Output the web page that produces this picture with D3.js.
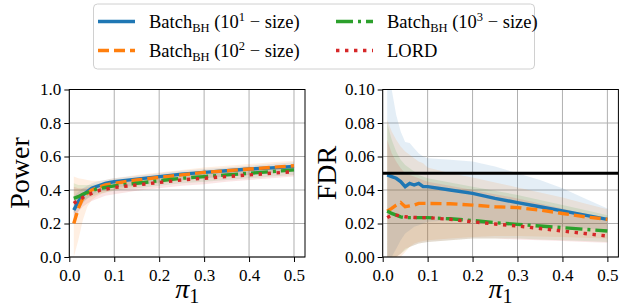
<!DOCTYPE html>
<html>
<head>
<meta charset="utf-8">
<script src="https://cdn.jsdelivr.net/npm/d3@7"></script>
<style>
body { margin: 0; background: #fff; }
svg text { font-family: "Liberation Serif", "DejaVu Serif", serif; fill: #000; }
</style>
</head>
<body>
<svg></svg>
<script>
var screen = {width: 623, height: 306};

// x positions (pi_1)
var pis = [0.01,0.02,0.03,0.04,0.05,0.06,0.07,0.08,0.09,0.1,0.15,0.2,0.25,0.3,0.35,0.4,0.45,0.5];

var seriesNames = ["b1", "b2", "b3", "lord"];
var colors = {b1: "#1f77b4", b2: "#ff7f0e", b3: "#2ca02c", lord: "#d62728"};

// power, mean
var powerB1   = [0.28,0.33,0.37,0.39,0.41,0.42,0.43,0.44,0.445,0.45,0.465,0.48,0.495,0.505,0.515,0.525,0.532,0.54];
var powerB2   = [0.20,0.29,0.35,0.38,0.40,0.41,0.42,0.43,0.435,0.44,0.46,0.475,0.49,0.505,0.515,0.525,0.535,0.545];
var powerB3   = [0.35,0.36,0.375,0.385,0.395,0.405,0.41,0.415,0.42,0.425,0.44,0.455,0.47,0.48,0.49,0.50,0.51,0.52];
var powerLord = [0.32,0.34,0.355,0.37,0.38,0.39,0.40,0.405,0.41,0.415,0.43,0.445,0.46,0.47,0.48,0.49,0.50,0.51];
// power, band low / high
var powerB1Lo   = [0.20,0.27,0.32,0.35,0.37,0.385,0.395,0.40,0.41,0.415,0.43,0.445,0.46,0.47,0.48,0.49,0.50,0.51];
var powerB1Hi   = [0.36,0.39,0.41,0.425,0.44,0.45,0.455,0.46,0.465,0.47,0.485,0.50,0.515,0.525,0.535,0.545,0.555,0.565];
var powerB2Lo   = [0.0,0.10,0.22,0.30,0.34,0.36,0.375,0.385,0.395,0.40,0.425,0.44,0.455,0.47,0.48,0.49,0.50,0.51];
var powerB2Hi   = [0.48,0.47,0.465,0.46,0.455,0.455,0.455,0.46,0.465,0.47,0.49,0.505,0.52,0.535,0.545,0.555,0.565,0.575];
var powerB3Lo   = [0.26,0.30,0.33,0.35,0.36,0.37,0.38,0.385,0.39,0.395,0.41,0.425,0.44,0.45,0.46,0.47,0.48,0.49];
var powerB3Hi   = [0.44,0.43,0.43,0.43,0.43,0.435,0.44,0.445,0.45,0.455,0.47,0.485,0.50,0.51,0.52,0.53,0.54,0.55];
var powerLordLo = [0.22,0.27,0.30,0.32,0.335,0.345,0.355,0.365,0.37,0.375,0.395,0.41,0.425,0.435,0.45,0.46,0.47,0.48];
var powerLordHi = [0.42,0.41,0.41,0.415,0.42,0.425,0.43,0.435,0.44,0.445,0.465,0.48,0.49,0.50,0.51,0.52,0.53,0.54];

// FDR, mean
var fdrB1   = [0.049,0.048,0.047,0.045,0.042,0.044,0.043,0.044,0.042,0.042,0.040,0.038,0.035,0.0325,0.030,0.0275,0.025,0.0225];
var fdrB2   = [0.0273,0.029,0.031,0.0325,0.030,0.0305,0.031,0.032,0.032,0.032,0.0318,0.031,0.030,0.0295,0.028,0.026,0.024,0.0225];
var fdrB3   = [0.0275,0.026,0.025,0.024,0.0235,0.0235,0.0235,0.0235,0.0235,0.0235,0.0228,0.0218,0.0205,0.0195,0.0185,0.0175,0.0165,0.0155];
var fdrLord = [0.0235,0.025,0.025,0.0245,0.024,0.0238,0.0236,0.0235,0.0235,0.0235,0.0225,0.021,0.0197,0.0185,0.017,0.0155,0.014,0.0125];
// FDR, band low / high
var fdrB1Lo   = [0,0,0.005,0.01,0.014,0.016,0.018,0.019,0.02,0.021,0.022,0.022,0.021,0.020,0.019,0.018,0.017,0.016];
var fdrB1Hi   = [0.12,0.10,0.085,0.075,0.0686,0.068,0.065,0.062,0.060,0.059,0.058,0.057,0.054,0.050,0.046,0.041,0.035,0.029];
var fdrB2Lo   = [0,0,0,0,0.003,0.006,0.008,0.009,0.0095,0.010,0.011,0.012,0.0125,0.0125,0.0123,0.012,0.0115,0.011];
var fdrB2Hi   = [0.082,0.075,0.07,0.066,0.063,0.061,0.059,0.057,0.056,0.0535,0.050,0.0475,0.0445,0.0415,0.0385,0.0355,0.032,0.0285];
var fdrB3Lo   = [0,0,0,0.002,0.004,0.006,0.007,0.008,0.0085,0.009,0.010,0.011,0.011,0.011,0.0105,0.010,0.0095,0.009];
var fdrB3Hi   = [0.08,0.07,0.063,0.058,0.055,0.053,0.051,0.049,0.048,0.047,0.0445,0.042,0.0395,0.037,0.034,0.031,0.028,0.025];
var fdrLordLo = [0,0,0,0.002,0.005,0.006,0.007,0.008,0.0085,0.009,0.010,0.011,0.011,0.0105,0.010,0.0095,0.009,0.0085];
var fdrLordHi = [0.07,0.062,0.057,0.053,0.05,0.049,0.048,0.047,0.046,0.045,0.0425,0.040,0.0375,0.035,0.032,0.029,0.0255,0.022];

var xTicks = [0, 0.1, 0.2, 0.3, 0.4, 0.5];
var powerTicks = [0, 0.2, 0.4, 0.6, 0.8, 1.0];
var fdrTicks = [0, 0.02, 0.04, 0.06, 0.08, 0.10];
var fdrTarget = 0.05;

var styles = {
    b1:   {width: 3.4, dash: null},
    b2:   {width: 3.4, dash: "11,5"},
    b3:   {width: 3.4, dash: "17,5,3,5"},
    lord: {width: 3.4, dash: "3.4,5.6"}
};

var svg = d3.select("svg").attr("width", screen.width).attr("height", screen.height);

var drawPanel = function(opts)
{
    var xScale = d3.scaleLinear().domain([0, 0.5245]).range([opts.left, opts.right]);
    var yScale = d3.scaleLinear().domain(opts.yDomain).range([257, 89.5]);
    var g = svg.append("g");

    g.append("clipPath").attr("id", opts.id + "clip")
    .append("rect")
    .attr("x", opts.left).attr("y", 89.5)
    .attr("width", opts.right - opts.left).attr("height", 257 - 89.5);

    // grid
    g.append("g").selectAll("line").data(xTicks).enter().append("line")
    .attr("x1", function(d){ return xScale(d); }).attr("x2", function(d){ return xScale(d); })
    .attr("y1", 89.5).attr("y2", 257)
    .attr("stroke", "#b0b0b0").attr("stroke-width", 1);
    g.append("g").selectAll("line").data(opts.yTicks).enter().append("line")
    .attr("y1", function(d){ return yScale(d); }).attr("y2", function(d){ return yScale(d); })
    .attr("x1", opts.left).attr("x2", opts.right)
    .attr("stroke", "#b0b0b0").attr("stroke-width", 1);

    var plot = g.append("g").attr("clip-path", "url(#" + opts.id + "clip)");

    seriesNames.forEach(function(name){
        var s = opts.data[name];
        var area = d3.area()
        .x(function(d, i){ return xScale(pis[i]); })
        .y0(function(d, i){ return yScale(s.lo[i]); })
        .y1(function(d, i){ return yScale(s.hi[i]); });
        plot.append("path").datum(pis)
        .attr("d", area)
        .attr("fill", colors[name]).attr("fill-opacity", 0.12);
    });

    seriesNames.forEach(function(name){
        var s = opts.data[name];
        var line = d3.line()
        .x(function(d, i){ return xScale(pis[i]); })
        .y(function(d){ return yScale(d); });
        plot.append("path").datum(s.mean)
        .attr("d", line)
        .attr("fill", "none")
        .attr("stroke", colors[name])
        .attr("stroke-width", styles[name].width)
        .attr("stroke-dasharray", styles[name].dash);
    });

    if (opts.hline != null) {
        plot.append("line")
        .attr("x1", opts.left).attr("x2", opts.right)
        .attr("y1", yScale(opts.hline)).attr("y2", yScale(opts.hline))
        .attr("stroke", "#000").attr("stroke-width", 3);
    }

    // axes
    var xAxis = d3.axisBottom(xScale).tickValues(xTicks).tickFormat(d3.format(".1f")).tickSize(5).tickPadding(3);
    var yAxis = d3.axisLeft(yScale).tickValues(opts.yTicks).tickFormat(d3.format(opts.fmt)).tickSize(5).tickPadding(3);

    var gx = g.append("g").attr("transform", "translate(0,257)").call(xAxis);
    var gy = g.append("g").attr("transform", "translate(" + opts.left + ",0)").call(yAxis);
    [gx, gy].forEach(function(a){
        a.attr("font-family", null).attr("font-size", null);
        a.select(".domain").remove();
        a.selectAll("line").attr("stroke", "#000").attr("stroke-width", 1);
        a.selectAll("text").style("font-size", "17px").attr("fill", "#000");
    });
    gx.selectAll("text").attr("dy", "0.95em");

    g.append("rect")
    .attr("x", opts.left).attr("y", 89.5)
    .attr("width", opts.right - opts.left).attr("height", 257 - 89.5)
    .attr("fill", "none").attr("stroke", "#000").attr("stroke-width", 1);

    // labels
    g.append("text")
    .attr("transform", "translate(" + opts.ylabelX + ",173) rotate(-90)")
    .attr("text-anchor", "middle")
    .style("font-size", "28px")
    .text(opts.ylabel);

    var xl = g.append("text")
    .attr("x", (opts.left + opts.right) / 2).attr("y", 298)
    .attr("text-anchor", "middle")
    .style("font-size", "28px");
    xl.append("tspan").style("font-style", "italic").text("π");
    xl.append("tspan").attr("dy", 5).style("font-size", "20px").text("1");
};

drawPanel({
    id: "power", left: 69.3, right: 305, yDomain: [0, 1], yTicks: powerTicks, fmt: ".1f",
    ylabel: "Power", ylabelX: 29, hline: null,
    data: {
        b1:   {mean: powerB1, lo: powerB1Lo, hi: powerB1Hi},
        b2:   {mean: powerB2, lo: powerB2Lo, hi: powerB2Hi},
        b3:   {mean: powerB3, lo: powerB3Lo, hi: powerB3Hi},
        lord: {mean: powerLord, lo: powerLordLo, hi: powerLordHi}
    }
});

drawPanel({
    id: "fdr", left: 382.7, right: 618.4, yDomain: [0, 0.1], yTicks: fdrTicks, fmt: ".2f",
    ylabel: "FDR", ylabelX: 336, hline: fdrTarget,
    data: {
        b1:   {mean: fdrB1, lo: fdrB1Lo, hi: fdrB1Hi},
        b2:   {mean: fdrB2, lo: fdrB2Lo, hi: fdrB2Hi},
        b3:   {mean: fdrB3, lo: fdrB3Lo, hi: fdrB3Hi},
        lord: {mean: fdrLord, lo: fdrLordLo, hi: fdrLordHi}
    }
});

// legend
var legend = svg.append("g");
legend.append("rect")
.attr("x", 93.5).attr("y", 4).attr("width", 441).attr("height", 65)
.attr("rx", 4).attr("fill", "#fff").attr("fill-opacity", 0.8)
.attr("stroke", "#d0d0d0").attr("stroke-width", 1);

var legendItems = [
    {name: "b1",   x: 98,  y: 21.5, exp: "1"},
    {name: "b2",   x: 98,  y: 50.5, exp: "2"},
    {name: "b3",   x: 336, y: 21.5, exp: "3"},
    {name: "lord", x: 336, y: 50.5, exp: null}
];

legendItems.forEach(function(it){
    legend.append("line")
    .attr("x1", it.x).attr("x2", it.x + 37)
    .attr("y1", it.y).attr("y2", it.y)
    .attr("stroke", colors[it.name])
    .attr("stroke-width", styles[it.name].width)
    .attr("stroke-dasharray", styles[it.name].dash);

    var t = legend.append("text")
    .attr("x", it.x + 51).attr("y", it.y + 6)
    .style("font-size", "18.5px");
    if (it.exp == null) {
        t.text("LORD");
    } else {
        t.append("tspan").text("Batch");
        t.append("tspan").attr("dy", 4).style("font-size", "12.5px").text("BH");
        t.append("tspan").attr("dy", -4).text(" (10");
        t.append("tspan").attr("dy", -7).style("font-size", "12.5px").text(it.exp);
        t.append("tspan").attr("dy", 7).text(" \u2212 size)");
    }
});
</script>
</body>
</html>
